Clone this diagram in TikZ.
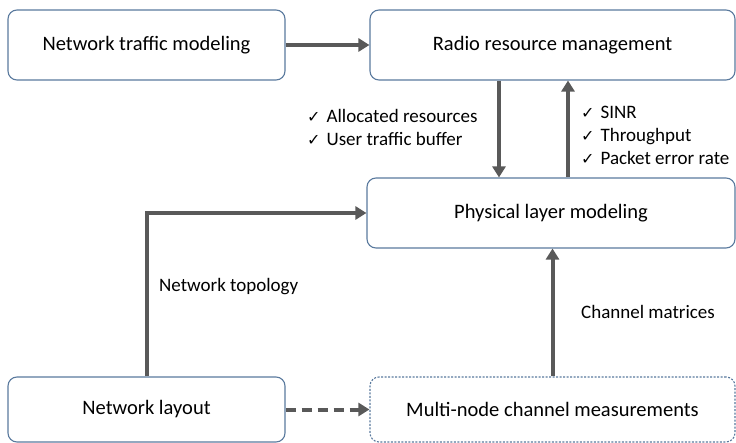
\documentclass[tikz,border=0pt]{standalone}
\usepackage{fontspec}
\setmainfont{Carlito}
\newfontfamily\symfont{DejaVu Sans}
\usetikzlibrary{arrows.meta, positioning}
\definecolor{boxedge}{HTML}{5A7A9E}
\definecolor{arrowgray}{HTML}{595959}
\newcommand{\tick}{{\symfont\fontsize{16}{18}\selectfont ✓}\hspace{6pt}}

\begin{document}
\begin{tikzpicture}[x=1pt, y=-1pt,
    box/.style={rectangle, rounded corners=9pt, draw=boxedge, line width=1.1pt, fill=white, align=center, minimum height=70pt, font=\fontsize{20.5}{24}\selectfont},
    arrow/.style={-{Triangle[length=11pt, width=13pt]}, line width=4pt, arrowgray},
    note/.style={align=left, inner sep=0pt, font=\fontsize{19}{23}\selectfont}
]
\useasboundingbox (0,0) rectangle (736,443);

\node[box, minimum width=277pt] (traffic) at (146.5,45) {Network traffic modeling};
\node[box, minimum width=365pt] (rrm) at (552.5,45) {Radio resource management};
\node[box, minimum width=368pt] (phy) at (551,213) {Physical layer modeling};
\node[box, minimum width=277pt, minimum height=65pt] (layout) at (146.5,409.5) {Network layout};
\node[box, dash pattern=on 2pt off 1.5pt, minimum width=365pt, minimum height=65pt] (meas) at (552.5,409.5) {Multi-node channel measurements};

\node[note, anchor=west] (alloc) at (307,127) {\tick Allocated resources\\ \tick User traffic buffer};
\node[note, anchor=west] (metrics) at (581,135) {\tick SINR\\ \tick Throughput\\ \tick Packet error rate};
\node[note, anchor=west] (topo) at (159,287) {Network topology};
\node[note, anchor=west] (chan) at (581,312) {Channel matrices};

\draw[arrow] (traffic) -- (rrm);
\draw[arrow] ([xshift=-53.5pt]rrm.south) -- ([xshift=-53.5pt]rrm.south |- phy.north);
\draw[arrow] ([xshift=15.5pt]rrm.south |- phy.north) -- ([xshift=15.5pt]rrm.south);
\draw[arrow] (meas.north) -- (meas.north |- phy.south);
\draw[arrow] (layout.north) |- (phy.west);
\draw[arrow, dash pattern=on 10pt off 6pt] (layout) -- (meas);
\end{tikzpicture}
\end{document}
